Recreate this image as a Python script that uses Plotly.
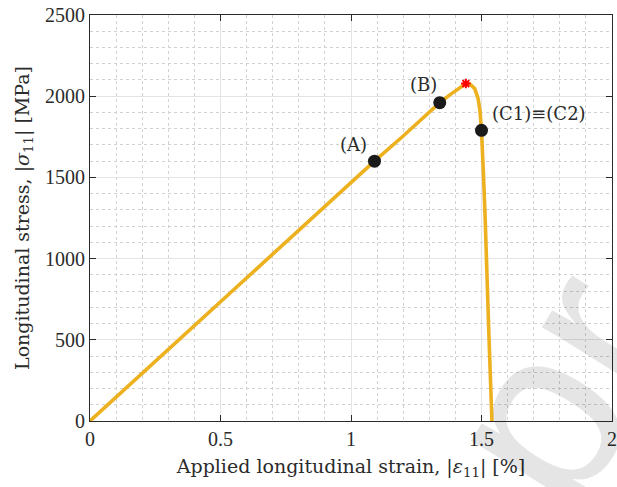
import plotly.graph_objects as go

# Stress-strain response under longitudinal loading
strain = [0.0, 0.50, 1.00, 1.09, 1.20, 1.30, 1.34, 1.38, 1.417, 1.44,
          1.455, 1.474, 1.487, 1.494, 1.50, 1.505, 1.508, 1.514, 1.520,
          1.529, 1.540]
stress = [0, 735, 1470, 1600, 1755, 1905, 1960, 2010, 2055, 2078,
          2075, 2047, 1985, 1913, 1790, 1650, 1500, 1250, 1000,
          500, 0]

# Labelled states along the curve
state_labels = ["(A)", "(B)", "(C1)\u2261(C2)"]
state_strain = [1.09, 1.34, 1.50]
state_stress = [1600, 1960, 1790]

# Peak stress
peak_strain = [1.44]
peak_stress = [2078]

x_ticks = [0, 0.5, 1, 1.5, 2]
x_tick_text = ["0", "0.5", "1", "1.5", "2"]
y_ticks = [0, 500, 1000, 1500, 2000, 2500]
y_tick_text = ["0", "500", "1000", "1500", "2000", "2500"]

TICK_FONT = "Liberation Serif"
TEXT_FONT = "DejaVu Serif"
INK = "#2b2b2b"
ORANGE = "#EDB120"

fig = go.Figure()

# Light diagonal watermark across the lower right corner
fig.add_annotation(
    x=0.893, y=0.083, xref="paper", yref="paper",
    text="pr", showarrow=False, textangle=-58,
    xanchor="center", yanchor="middle",
    font=dict(family="Liberation Sans", size=240, color="rgba(0,0,0,0.10)"),
)

fig.add_trace(go.Scatter(
    x=strain, y=stress, mode="lines",
    line=dict(color=ORANGE, width=3.6),
    hoverinfo="skip", showlegend=False,
))

fig.add_trace(go.Scatter(
    x=state_strain, y=state_stress, mode="markers",
    marker=dict(color="#1a1a1a", size=13, line=dict(width=0)),
    showlegend=False,
))

fig.add_trace(go.Scatter(
    x=peak_strain, y=peak_stress, mode="markers",
    marker=dict(symbol="asterisk-open", color="#ff0000", size=8,
                line=dict(color="#ff0000", width=2)),
    showlegend=False,
))

# State labels, offset from their markers
offsets = [(-21, 17, "center"), (-16, 18, "center"), (8, 17, "left")]
for lab, sx, sy, (dx, dy, anc) in zip(state_labels, state_strain, state_stress, offsets):
    fig.add_annotation(
        x=sx, y=sy, text=lab, showarrow=False,
        xshift=dx, yshift=dy, xanchor=anc, yanchor="middle",
        font=dict(family=TEXT_FONT, size=18, color=INK),
    )

axis_common = dict(
    showline=True, linecolor=INK, linewidth=1, mirror="ticks",
    ticks="inside", ticklen=6, tickwidth=1, tickcolor=INK,
    showgrid=True, gridcolor="#e4e4e4", gridwidth=1,
    zeroline=False, automargin=False,
    tickfont=dict(family=TICK_FONT, size=20, color=INK),
)

fig.update_xaxes(
    range=[0, 2], tickvals=x_ticks, ticktext=x_tick_text,
    minor=dict(dtick=0.1, showgrid=True, gridcolor="#d2d2d2",
               griddash="dot", gridwidth=1, ticks=""),
    title=dict(text="Applied longitudinal strain, |<i>\u03b5</i><sub>11</sub>| [%]",
               font=dict(family=TEXT_FONT, size=19, color=INK), standoff=10),
    **axis_common,
)
fig.update_yaxes(
    range=[0, 2500], tickvals=y_ticks, ticktext=y_tick_text,
    minor=dict(dtick=100, showgrid=True, gridcolor="#d2d2d2",
               griddash="dot", gridwidth=1, ticks=""),
    title=dict(text="Longitudinal stress, |<i>\u03c3</i><sub>11</sub>| [MPa]",
               font=dict(family=TEXT_FONT, size=19, color=INK), standoff=10),
    **axis_common,
)

fig.update_layout(
    width=617, height=487,
    margin=dict(l=90, r=5, t=15, b=66),
    paper_bgcolor="white", plot_bgcolor="white",
    showlegend=False,
)

fig.write_html("out.html")
